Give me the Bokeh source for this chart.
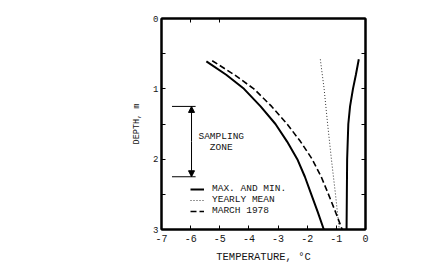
from bokeh.plotting import figure
from bokeh.models import (Range1d, LinearAxis, FixedTicker, Legend, LegendItem,
                          Arrow, NormalHead)
from bokeh.core.properties import value
from bokeh.embed import file_html
from bokeh.resources import INLINE

# ---- data ----
max_depth = [0.61, 0.8, 1.0, 1.25, 1.5, 1.75, 2.0, 2.25, 2.5, 2.75, 3.0]
max_temp = [-5.46, -4.78, -4.17, -3.6, -3.09, -2.69, -2.34, -2.08, -1.86, -1.64, -1.43]

min_depth = [0.58, 0.8, 1.0, 1.25, 1.5, 2.0, 2.5, 3.0]
min_temp = [-0.23, -0.33, -0.43, -0.53, -0.59, -0.63, -0.64, -0.65]

mean_depth = [0.58, 1.0, 1.5, 2.0, 2.5, 3.0]
mean_temp = [-1.55, -1.42, -1.3, -1.17, -1.03, -0.9]

march_depth = [0.6, 0.8, 1.0, 1.25, 1.5, 1.75, 2.0, 2.25, 2.5, 2.75, 3.0]
march_temp = [-5.26, -4.5, -3.83, -3.22, -2.69, -2.23, -1.83, -1.52, -1.27, -1.03, -0.8]

zone_top = 1.25
zone_bottom = 2.25
zone_x = -5.97
zone_bracket_x0 = -6.64
zone_bracket_x1 = -5.83
zone_label_x = -4.95
zone_label_lines = ["SAMPLING", "ZONE"]
zone_label_y = [1.68, 1.84]

x_ticks = [-7, -6, -5, -4, -3, -2, -1, 0]
x_tick_labels = ["-7", "-6", "-5", "-4", "-3", "-2", "-1", "0"]
y_ticks = [0, 0.5, 1, 1.5, 2, 2.5, 3]
y_tick_labels = ["0", "", "1", "", "2", "", "3"]
top_ticks = [-6, -5]

FONT = "Liberation Mono"
TXT = "#151515"

p = figure(width=436, height=265, output_backend="svg", toolbar_location=None,
           x_range=Range1d(-7, 0), y_range=Range1d(3, 0),
           min_border_left=161, min_border_right=71, min_border_top=18,
           min_border_bottom=35, x_axis_location=None, y_axis_location=None)
p.grid.visible = False
p.outline_line_color = "black"
p.outline_line_width = 2
p.background_fill_color = "white"
p.border_fill_color = "white"

def style_axis(ax):
    ax.axis_line_width = 2
    ax.axis_line_color = "black"
    ax.major_tick_in = 4
    ax.major_tick_out = 0
    ax.minor_tick_line_color = None
    ax.major_tick_line_color = "black"
    ax.major_tick_line_width = 1
    ax.major_label_text_font = FONT
    ax.major_label_text_color = TXT
    ax.axis_label_text_font = FONT
    ax.axis_label_text_color = TXT
    ax.axis_label_text_font_style = "normal"

xb = LinearAxis(ticker=FixedTicker(ticks=x_ticks), axis_label="TEMPERATURE, °C")
style_axis(xb)
xb.major_label_text_font_size = "10px"
xb.axis_label_text_font_size = "10.5px"
xb.major_label_standoff = 5
xb.axis_label_standoff = 6
xb.major_label_overrides = dict(zip(x_ticks, x_tick_labels))
p.add_layout(xb, "below")

yl = LinearAxis(ticker=FixedTicker(ticks=y_ticks), axis_label="DEPTH, m")
style_axis(yl)
yl.major_label_text_font_size = "9px"
yl.axis_label_text_font_size = "8.5px"
yl.major_label_standoff = 3
yl.axis_label_standoff = 8
yl.major_label_overrides = dict(zip(y_ticks, y_tick_labels))
p.add_layout(yl, "left")

yr = LinearAxis(ticker=FixedTicker(ticks=y_ticks))
style_axis(yr)
yr.major_label_text_color = None
p.add_layout(yr, "right")

xt = LinearAxis(ticker=FixedTicker(ticks=top_ticks))
style_axis(xt)
xt.major_label_text_color = None
p.add_layout(xt, "above")

r_max = p.line(max_temp, max_depth, line_color="black", line_width=2)
p.line(min_temp, min_depth, line_color="black", line_width=2)
r_mean = p.line(mean_temp, mean_depth, line_color="#333333", line_width=1, line_dash="1 2")
r_march = p.line(march_temp, march_depth, line_color="black", line_width=1.6, line_dash="6 3")

# sampling zone bracket
p.segment(x0=[zone_bracket_x0, zone_bracket_x0], y0=[zone_top, zone_bottom],
          x1=[zone_bracket_x1, zone_bracket_x1], y1=[zone_top, zone_bottom],
          line_color="black", line_width=1)
p.add_layout(Arrow(x_start=zone_x, y_start=(zone_top + zone_bottom) / 2,
                   x_end=zone_x, y_end=zone_top, line_width=1,
                   end=NormalHead(size=6, fill_color="black", line_color="black")))
p.add_layout(Arrow(x_start=zone_x, y_start=(zone_top + zone_bottom) / 2,
                   x_end=zone_x, y_end=zone_bottom, line_width=1,
                   end=NormalHead(size=6, fill_color="black", line_color="black")))
p.text(x=[zone_label_x] * 2, y=zone_label_y, text=zone_label_lines,
       text_font=value(FONT), text_font_size="9.5px", text_color=TXT,
       text_align="center", text_baseline="middle")

legend = Legend(items=[LegendItem(label="MAX. AND MIN.", renderers=[r_max]),
                       LegendItem(label="YEARLY MEAN", renderers=[r_mean]),
                       LegendItem(label="MARCH 1978", renderers=[r_march])],
                location=(29, 13), background_fill_alpha=0, border_line_color=None,
                glyph_width=14, glyph_height=10, label_height=10, label_standoff=8,
                spacing=0, padding=0, margin=0,
                label_text_font=FONT, label_text_font_size="9.5px",
                label_text_color=TXT)
p.add_layout(legend, "center")

open("out.html", "w").write(file_html(p, INLINE))
